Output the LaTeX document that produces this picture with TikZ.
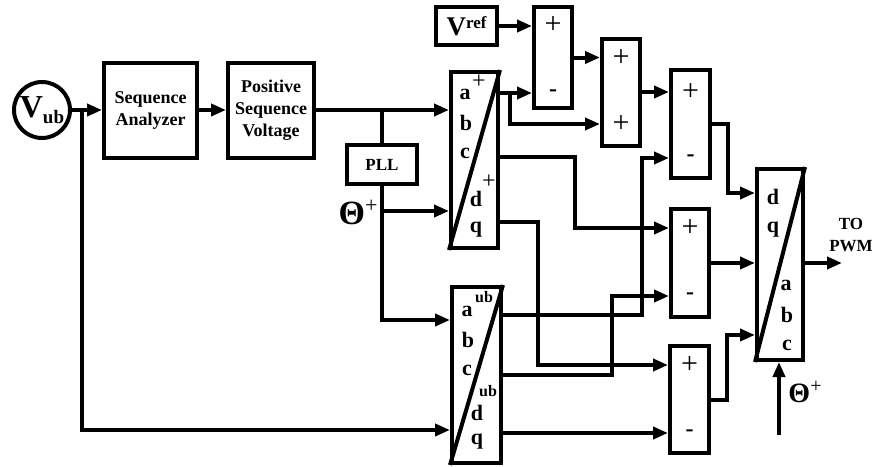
\documentclass[tikz,border=0pt]{standalone}
\usepackage{fontspec}
\setmainfont{Liberation Serif}
\usetikzlibrary{positioning, arrows.meta, calc}
\tikzset{every picture/.append style={line width=4pt}}

\tikzset{
  blk/.style={draw, inner sep=0pt, align=center, font=\fontsize{18}{22}\selectfont\bfseries},
  sumbox/.style={draw, minimum width=38pt, minimum height=107pt, inner sep=0pt},
  conv/.style={draw, inner sep=0pt},
  ltr/.style={font=\fontsize{22}{22}\selectfont\bfseries, inner sep=0pt},
  supub/.style={font=\fontsize{16}{16}\selectfont\bfseries, inner sep=0pt},
  supplus/.style={font=\fontsize{24}{24}\selectfont, inner sep=0pt},
  plus/.style={font=\fontsize{30}{30}\selectfont, inner sep=0pt},
  minus/.style={font=\fontsize{24}{24}\selectfont\bfseries, inner sep=0pt},
}

\begin{document}
\begin{tikzpicture}[x=1pt, y=-1pt, >={Triangle[length=15pt,width=12pt]}]
    \useasboundingbox (0,0) rectangle (881,466);

    % ---------------------------------------------------
    % 1. Input and sequence analysis
    % ---------------------------------------------------
    \node[draw, circle, minimum size=56pt, inner sep=0pt] (vub) at (42,110) {};
    \node[inner sep=0pt, font=\fontsize{32}{32}\selectfont\bfseries] (vubtxt) at (vub.center)
        {V\raisebox{-6pt}{\fontsize{19}{19}\selectfont ub}};
    \node[blk, minimum width=93pt, minimum height=95pt] (sa) at (150.5,110) {Sequence\\Analyzer};
    \node[blk, minimum width=86pt, minimum height=95pt] (psv) at (271,110) {Positive\\Sequence\\Voltage};

    \draw[->] (vub) -- (sa);
    \draw[->] (sa) -- (psv);

    % ---------------------------------------------------
    % 2. PLL and abc/dq blocks
    % ---------------------------------------------------
    \node[blk, minimum width=70pt, minimum height=39pt, font=\fontsize{17}{17}\selectfont\bfseries] (pll) at (382,164.5) {PLL};

    \node[conv, minimum width=47pt, minimum height=176pt] (abcp) at (474.5,160) {};
    \draw (abcp.north east) -- (abcp.south west);
    \node[ltr] (abcpa) at (465,94) {a};
    \node[supplus] (abcpap) at (479,82) {+};
    \node[ltr] (abcpb) at (466,123) {b};
    \node[ltr] (abcpc) at (465,153) {c};
    \node[ltr] (abcpd) at (476,199) {d};
    \node[supplus] (abcpdp) at (489,182) {+};
    \node[ltr] (abcpq) at (476,230) {q};

    \node[conv, minimum width=49pt, minimum height=176pt] (ub) at (476.5,375) {};
    \draw (ub.north east) -- (ub.south west);
    \node[ltr] (uba) at (467,311) {a};
    \node[supub] (ubaub) at (484,297) {ub};
    \node[ltr] (ubb) at (468,340) {b};
    \node[ltr] (ubc) at (467,370) {c};
    \node[supub] (ubdub) at (488,391) {ub};
    \node[ltr] (ubd) at (477,413) {d};
    \node[ltr] (ubq) at (477,442) {q};

    \draw[->] (psv.east) -- (abcp.west |- psv.east);
    \coordinate (jpll) at (pll.north |- psv.east);
    \draw (jpll) -- (pll.north);
    \draw[->] (pll.south) |- (ub.west |- 0,320);
    \coordinate (jth) at (pll.south |- 0,211);
    \draw[->] (jth) -- (abcp.west |- jth);
    \node[inner sep=0pt, font=\fontsize{34}{34}\selectfont\bfseries] (thp) at (358,212)
        {Θ\raisebox{12pt}{\normalfont\fontsize{22}{22}\selectfont +}};

    \coordinate (jfb) at (82,110);
    \draw[->] (jfb) |- (ub.west |- 0,430);

    % ---------------------------------------------------
    % 3. Reference and summing blocks
    % ---------------------------------------------------
    \node[blk, minimum width=61pt, minimum height=38pt, font=\fontsize{27}{27}\selectfont\bfseries] (vref) at (466.5,26)
        {V\raisebox{7pt}{\fontsize{17}{17}\selectfont ref}};

    \node[sumbox, minimum height=101pt] (s1) at (553,57.5) {};
    \node[plus] (s1a) at (553,25) {+};
    \node[minus] (s1b) at (553,93) {-};

    \node[sumbox] (s2) at (621,92) {};
    \node[plus] (s2a) at (621,58) {+};
    \node[plus] (s2b) at (621,124) {+};

    \node[sumbox, minimum width=39pt, minimum height=108pt] (s3) at (690.5,124) {};
    \node[plus] (s3a) at (690.5,92) {+};
    \node[minus] (s3b) at (690.5,158) {-};

    \node[sumbox, minimum height=108pt] (s4) at (690,263) {};
    \node[plus] (s4a) at (690,228) {+};
    \node[minus] (s4b) at (690,296) {-};

    \node[sumbox, minimum width=39pt] (s5) at (689.5,399.5) {};
    \node[plus] (s5a) at (689.5,365) {+};
    \node[minus] (s5b) at (689.5,433) {-};

    \draw[->] (vref) -- (s1.west |- vref);
    \draw[->] (s1.east) -- (s2.west |- s1.east);
    \draw[->] (s2.east) -- (s3.west |- s2.east);

    % abc/dq (+) outputs
    \coordinate (pa) at (abcp.east |- 0,93);
    \coordinate (pb) at (abcp.east |- 0,157);
    \coordinate (pc) at (abcp.east |- 0,222);
    \coordinate (jpa) at (510,93);
    \draw[->] (pa) -- (s1.west |- pa);
    \draw[->] (jpa) |- (s2.west |- 0,124);
    \draw[->] (pb) -| (575,228) -- (s4.west |- 0,228);
    \draw[->] (pc) -| (538,365) -- (s5.west |- 0,365);

    % abc/dq (ub) outputs
    \draw[->] (ub.east |- 0,315) -| (642,158) -- (s3.west |- 0,158);
    \draw[->] (ub.east |- 0,375) -| (612,296) -- (s4.west |- 0,296);
    \draw[->] (ub.east |- 0,433) -- (s5.west |- 0,433);

    % ---------------------------------------------------
    % 4. dq/abc block and PWM output
    % ---------------------------------------------------
    \node[conv, minimum width=46pt, minimum height=191pt] (dq) at (780,264.5) {};
    \draw (dq.north east) -- (dq.south west);
    \node[ltr] (dqd) at (773,197) {d};
    \node[ltr] (dqq) at (773,230) {q};
    \node[ltr] (dqa) at (786,285) {a};
    \node[ltr] (dqb) at (787,315) {b};
    \node[ltr] (dqc) at (787,345) {c};

    \draw[->] (s3.east) -| (728,193) -- (dq.west |- 0,193);
    \draw[->] (s4.east) -- (dq.west |- s4.east);
    \draw[->] (s5.east) -| (727,335) -- (dq.west |- 0,335);

    \coordinate (pwm) at (842,263);
    \draw[->] (dq.east |- pwm) -- (pwm);
    \node[align=center, inner sep=0pt, font=\fontsize{17}{22}\selectfont\bfseries] (pwmtxt) at (851,235) {TO\\PWM};

    \coordinate (thin) at (779,435);
    \draw[->] (thin) -- (dq.south -| thin);
    \node[inner sep=0pt, font=\fontsize{28}{28}\selectfont\bfseries] (thb) at (805,392)
        {Θ\raisebox{10pt}{\normalfont\fontsize{20}{20}\selectfont +}};

\end{tikzpicture}
\end{document}
